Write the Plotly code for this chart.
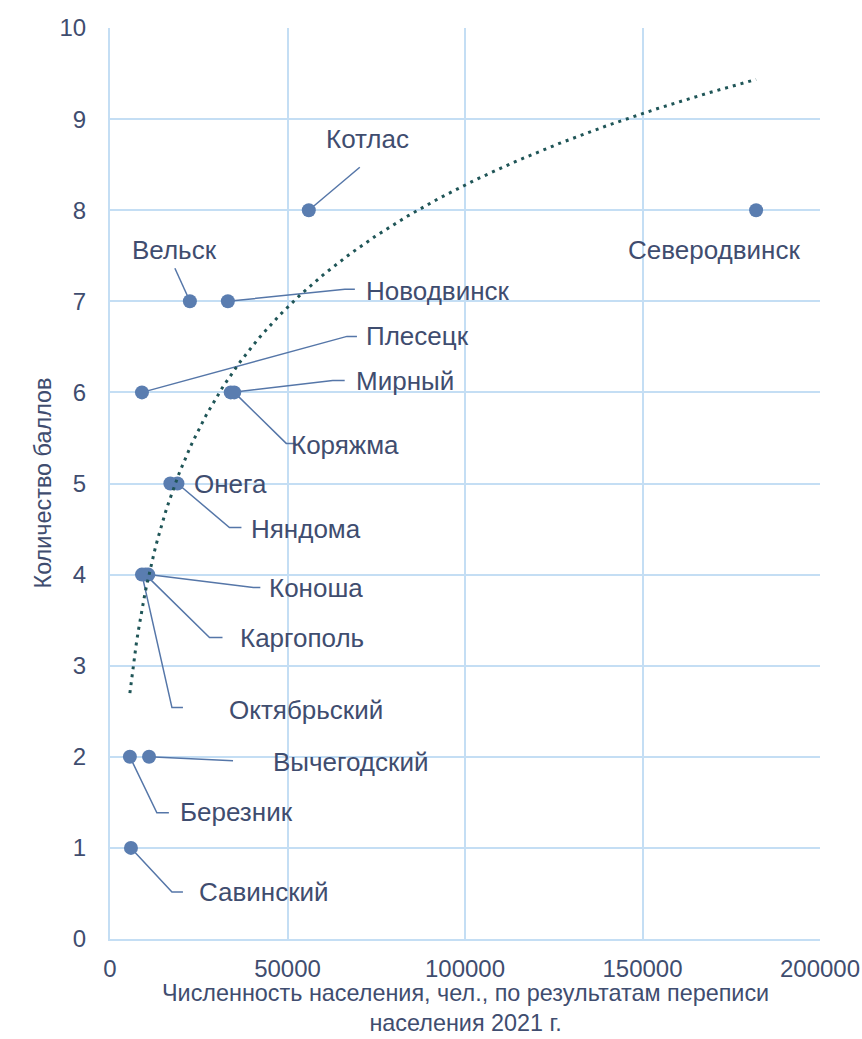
import numpy as np
import plotly.graph_objects as go

# data
towns = ["Котлас", "Северодвинск", "Вельск", "Новодвинск", "Плесецк", "Мирный",
         "Коряжма", "Онега", "Няндома", "Коноша", "Каргополь", "Октябрьский",
         "Вычегодский", "Березник", "Савинский"]
population = [56000, 182000, 22500, 33200, 9000, 34000,
              35000, 17000, 19000, 10800, 10000, 9000,
              11000, 5600, 5900]
scores = [8, 8, 7, 7, 6, 6, 6, 5, 5, 4, 4, 4, 2, 2, 1]

x_ticks = [0, 50000, 100000, 150000, 200000]
y_ticks = list(range(0, 11))

x_title = "Численность населения, чел., по результатам переписи<br>населения 2021 г."
y_title = "Количество баллов"

# label placement in screen pixels relative to the point: text centre, leader path
label_pos = {
    "Котлас": ((59, -71), [(51, -43)]),
    "Северодвинск": ((-42, 40), []),
    "Вельск": ((-15, -51), [(-15, -33)]),
    "Новодвинск": ((210, -10), [(117, -12), (127, -12)]),
    "Плесецк": ((276, -56), [(205, -56), (215, -56)]),
    "Мирный": ((174, -11), [(102, -12), (114, -12)]),
    "Коряжма": ((111, 53), [(52, 51), (62, 51)]),
    "Онега": ((60, 0), []),
    "Няндома": ((129, 45), [(52, 44), (64, 44)]),
    "Коноша": ((168, 13), [(105, 13), (112, 13)]),
    "Каргополь": ((156, 63), [(64, 63), (77, 63)]),
    "Октябрьский": ((164, 135), [(30, 133), (41, 133)]),
    "Вычегодский": ((201, 5), [(84, 4)]),
    "Березник": ((107, 55), [(27, 56), (39, 56)]),
    "Савинский": ((133, 44), [(41, 44), (52, 44)]),
}

W, H = 862, 1039
M_L, M_R, M_T, M_B = 110, 42, 28, 100
plot_w = W - M_L - M_R
plot_h = H - M_T - M_B
X_PER_PX = 200000 / plot_w
Y_PER_PX = 10 / plot_h

TEXT = "#3f4d6f"
GRID = "#c4def4"
POINT = "#5a7db0"
LEADER = "#5576a8"
FONT = "Liberation Sans, Arial, sans-serif"

fig = go.Figure()

# leader lines
for t, px, sc in zip(towns, population, scores):
    path = label_pos[t][1]
    if not path:
        continue
    xs = [px] + [px + dx * X_PER_PX for dx, dy in path]
    ys = [sc] + [sc - dy * Y_PER_PX for dx, dy in path]
    fig.add_trace(go.Scatter(x=xs, y=ys, mode="lines",
                             line=dict(color=LEADER, width=1.5),
                             hoverinfo="skip", showlegend=False))

fig.add_trace(go.Scatter(
    x=population, y=scores, mode="markers", text=towns,
    marker=dict(size=14, color=POINT),
    showlegend=False
))

# logarithmic trend (least squares on ln x)
a, b = np.polyfit(np.log(population), scores, 1)
tx = np.linspace(min(population), max(population), 300)
fig.add_trace(go.Scatter(
    x=tx, y=a * np.log(tx) + b, mode="lines",
    line=dict(color="#1f5557", width=3, dash="3px,5px"),
    hoverinfo="skip", showlegend=False
))

for t, px, sc in zip(towns, population, scores):
    (dx, dy), _ = label_pos[t]
    fig.add_annotation(x=px, y=sc, text=t, showarrow=False,
                       xshift=dx, yshift=-dy,
                       font=dict(size=26, color=TEXT, family=FONT))

# axis titles
fig.add_annotation(x=0.5, xref="paper", y=-69 / plot_h, yref="paper",
                   text=x_title, showarrow=False, xanchor="center", yanchor="middle",
                   borderpad=0, font=dict(size=23.4, color=TEXT, family=FONT))
fig.add_annotation(x=-68 / plot_w, xref="paper", y=0.5, yref="paper",
                   text=y_title, textangle=-90, showarrow=False,
                   xanchor="center", yanchor="middle",
                   font=dict(size=23.4, color=TEXT, family=FONT))

fig.update_layout(
    width=W, height=H,
    margin=dict(l=M_L, r=M_R, t=M_T, b=M_B),
    plot_bgcolor="white", paper_bgcolor="white",
    font=dict(family=FONT, color=TEXT),
    xaxis=dict(range=[0, 200000], tickvals=x_ticks, ticktext=[str(v) for v in x_ticks],
               showgrid=True, gridcolor=GRID, gridwidth=2, automargin=False,
               showline=True, linecolor=GRID, linewidth=2, zeroline=False,
               tickfont=dict(size=24), ticks="", ticklabelstandoff=7),
    yaxis=dict(range=[0, 10], tickvals=y_ticks,
               showgrid=True, gridcolor=GRID, gridwidth=2, automargin=False,
               showline=True, linecolor=GRID, linewidth=2, zeroline=False,
               tickfont=dict(size=24), ticks="", ticklabelstandoff=17),
)

# drop the default page margin so the figure fills the window
fig.write_html("out.html", config={"displayModeBar": False},
               post_script="document.body.style.margin='0';")
